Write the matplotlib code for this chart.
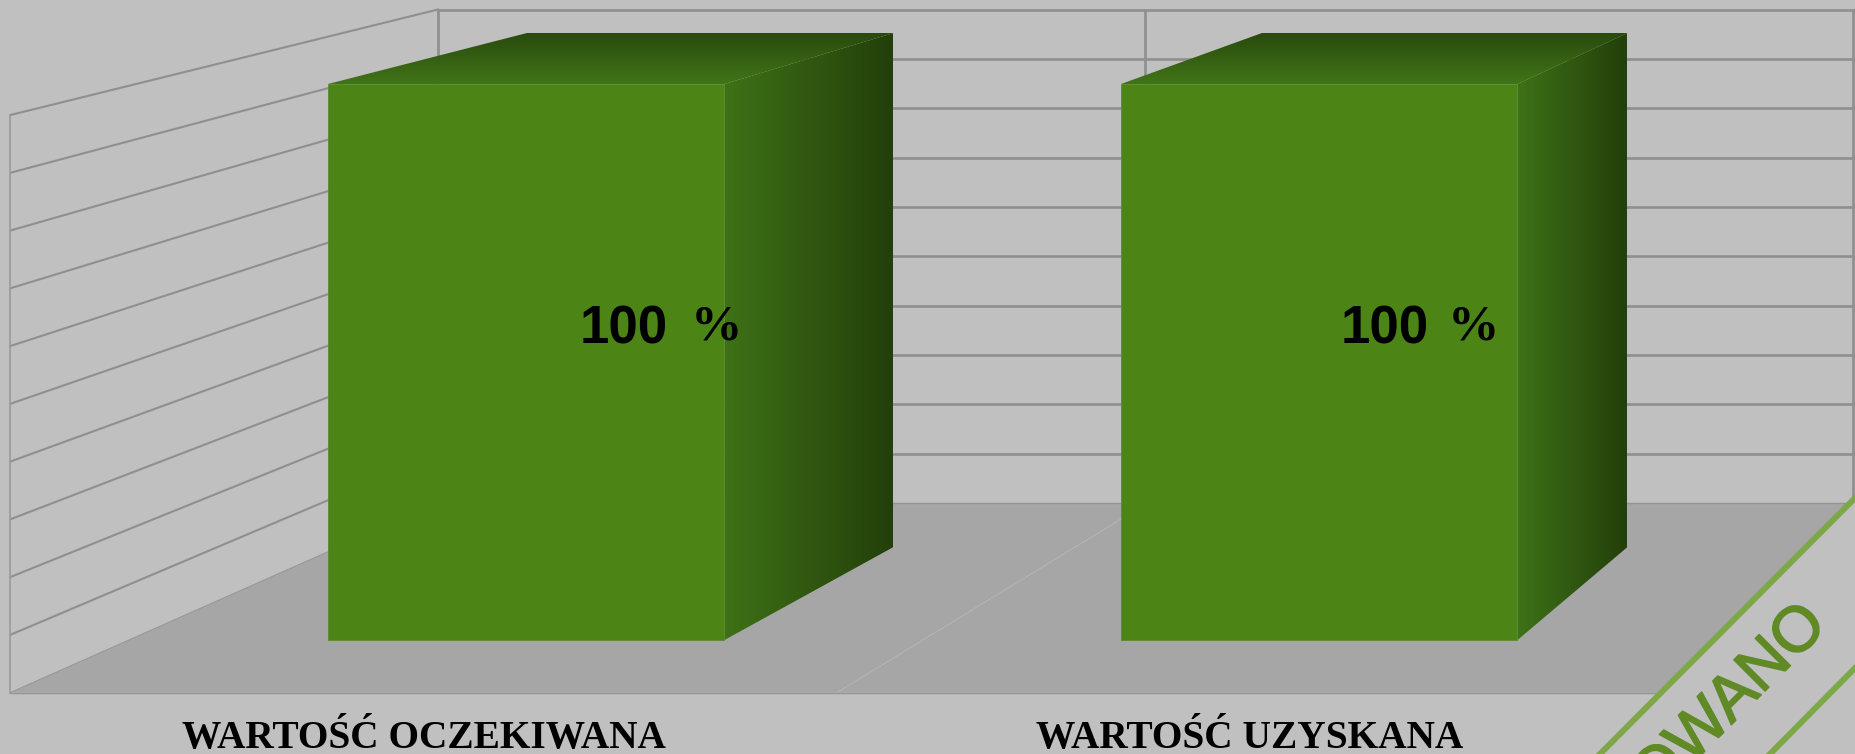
import numpy as np
import matplotlib
matplotlib.use('Agg')
import matplotlib.pyplot as plt
import matplotlib.patheffects as pe
from matplotlib.colors import LinearSegmentedColormap
from matplotlib.patches import Polygon

# --- Dane ---
KATEGORIE = ["WARTOŚĆ OCZEKIWANA", "WARTOŚĆ UZYSKANA"]
WARTOSCI = [100, 100]
POZIOMY = [0, 10, 20, 30, 40, 50, 60, 70, 80, 90, 100]

# --- Geometria (piksele obrazka) ---
TLO = "#c0c0c0"
PODLOGA = "#a6a6a6"
SIATKA = "#8f8f8f"
PRZOD = "#4c8416"

SCIANA_X0, SCIANA_X1, SCIANA_XS = 438, 1853, 1145
TYL_GORA, TYL_DOL = 9.5, 503
LEWA_X, LEWA_GORA, LEWA_DOL = 10.5, 115, 692.5

BAR_X = [328, 1121]
BAR_W = 396.5
BAR_DOL = 640
BAR_PX = 5.56          # pikseli na jednostke wartosci
TYL_X = [[527, 893.5], [1262, 1627.5]]
TYL_DOL_BAR = 547
TYL_DY = 51            # gora tylnej krawedzi wzgledem przedniej

ETYK_X = [424, 1250]
PROC_X = [[580, 691], [1341, 1448]]

plt.rcParams["font.family"] = ["Liberation Sans", "DejaVu Sans"]

fig = plt.figure(figsize=(18.56, 7.54), dpi=100, facecolor=TLO)
ax = fig.add_axes([0, 0, 1, 1])
ax.set_facecolor(TLO)
ax.axis("off")


def gradient(pts, c0, c1, poziomy=True, z=3):
    cmap = LinearSegmentedColormap.from_list("g", [c0, c1])
    xs = [p[0] for p in pts]
    ys = [p[1] for p in pts]
    dane = np.linspace(0, 1, 256)
    dane = dane.reshape(1, -1) if poziomy else dane.reshape(-1, 1)
    im = ax.imshow(dane, cmap=cmap, aspect="auto", zorder=z,
                   extent=(min(xs), max(xs), max(ys), min(ys)), origin="upper")
    maska = Polygon(pts, closed=True, transform=ax.transData, fc="none", ec="none")
    ax.add_patch(maska)
    im.set_clip_path(maska)


# --- Podloga ---
ax.add_patch(Polygon([(LEWA_X, LEWA_DOL), (SCIANA_X0, TYL_DOL), (SCIANA_X1, TYL_DOL),
                      (1856, TYL_DOL), (1856, LEWA_DOL)],
                     closed=True, fc=PODLOGA, ec="none", zorder=1))
ax.plot([LEWA_X, 1670], [LEWA_DOL, LEWA_DOL], color="#939393", lw=1.0, zorder=2)
ax.plot([LEWA_X, SCIANA_X0], [LEWA_DOL, TYL_DOL], color="#999999", lw=0.8, zorder=2)
ax.plot([SCIANA_X0, SCIANA_X1], [TYL_DOL, TYL_DOL], color="#939393", lw=1.0, zorder=2)
ax.plot([837, 1121], [LEWA_DOL, 519], color="#b4b4b4", lw=0.8, zorder=2)

# --- Siatka scian ---
for p in POZIOMY[1:]:
    u = p / POZIOMY[-1]
    y_tyl = TYL_DOL + (TYL_GORA - TYL_DOL) * u
    y_lew = LEWA_DOL + (LEWA_GORA - LEWA_DOL) * u
    ax.plot([SCIANA_X0, SCIANA_X1], [y_tyl, y_tyl], color=SIATKA, lw=1.9, zorder=2)
    ax.plot([LEWA_X, SCIANA_X0], [y_lew, y_tyl], color=SIATKA, lw=1.5, zorder=2)

ax.plot([LEWA_X, LEWA_X], [LEWA_GORA, LEWA_DOL], color="#9a9a9a", lw=1.2, zorder=2)
for x in [SCIANA_X0, SCIANA_XS, SCIANA_X1]:
    ax.plot([x, x], [TYL_GORA, TYL_DOL], color=SIATKA, lw=1.9, zorder=2)

# --- Slupki ---
for i, wart in enumerate(WARTOSCI):
    x0 = BAR_X[i]
    x1 = x0 + BAR_W
    y_gora = BAR_DOL - wart * BAR_PX
    y_tyl = y_gora - TYL_DY
    xt0, xt1 = TYL_X[i]

    gradient([(x0, y_gora), (xt0, y_tyl), (xt1, y_tyl), (x1, y_gora)],
             "#294a0d", "#417518", poziomy=False)
    gradient([(x1, y_gora), (xt1, y_tyl), (xt1, TYL_DOL_BAR), (x1, BAR_DOL)],
             "#3e7217", "#233f0a", poziomy=True)
    ax.add_patch(Polygon([(x0, y_gora), (x1, y_gora), (x1, BAR_DOL), (x0, BAR_DOL)],
                         closed=True, fc=PRZOD, ec="#5c8a35", lw=0.6, zorder=4))

    # etykieta wartosci
    y_tekst = y_gora + 259
    ax.text(PROC_X[i][0], y_tekst, str(wart), fontsize=38, fontweight="bold",
            color="black", ha="left", va="baseline", zorder=6)
    ax.text(PROC_X[i][1], y_tekst - 3, "%", fontsize=37, fontweight="bold",
            family="Liberation Serif", color="black", ha="left", va="baseline", zorder=6)

    # etykieta kategorii
    ax.text(ETYK_X[i], 748, KATEGORIE[i], fontsize=28.4, fontweight="bold",
            family="Liberation Serif", color="black", ha="center", va="baseline", zorder=6)

# --- Pieczec ---
ax.add_patch(Polygon([(1600, 754), (1856, 497), (1856, 754)],
                     closed=True, fc=TLO, ec="none", zorder=7))
ax.plot([1600, 1856], [754, 497], color="#7ea848", lw=4.3, zorder=8)
ax.plot([1770, 1856], [754, 667], color="#7ea848", lw=4.3, zorder=8)
ax.text(1829, 627, "OWANO", fontsize=46, color="#5f8a26", rotation=45,
        rotation_mode="anchor", ha="right", va="baseline", zorder=9,
        path_effects=[pe.withStroke(linewidth=1.2, foreground="#5f8a26")])

ax.set_xlim(0, 1856)
ax.set_ylim(754, 0)

fig.savefig("out.png", dpi=100, facecolor=TLO)
